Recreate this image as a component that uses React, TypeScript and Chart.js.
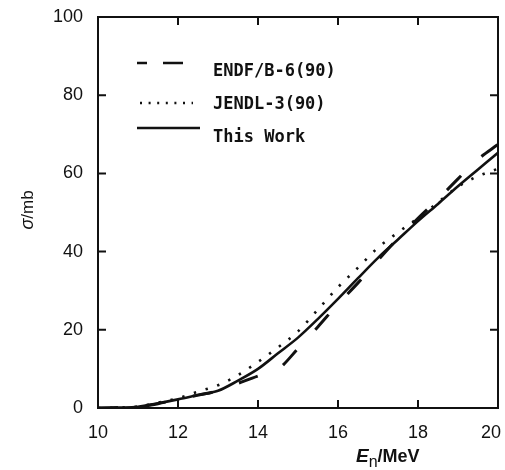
import React, { useEffect, useRef } from "react";
import { Chart, registerables } from "chart.js";

Chart.register(...registerables);

// Neutron energy grid (MeV)
const energies = [10, 10.5, 11, 11.5, 12, 12.5, 13, 13.5, 14, 14.5, 15, 15.5, 16, 16.5, 17, 17.5, 18, 18.5, 19, 19.5, 20];
// Cross sections (mb)
const endfb6 = [0, 0.1, 0.3, 1.1, 2.2, 3.3, 4.4, 6.3, 8.2, 9.9, 15.2, 20.8, 26.6, 32.0, 37.8, 43.4, 48.5, 53.4, 58.6, 63.6, 67.4];
const jendl3 = [0, 0.1, 0.4, 1.4, 2.5, 4.2, 5.8, 8.4, 11.8, 15.5, 19.6, 25.2, 30.9, 35.9, 41.0, 44.9, 48.6, 52.6, 56.6, 59.3, 61.2];
const thisWork = [0, 0.1, 0.3, 1.2, 2.2, 3.3, 4.4, 7.0, 10.0, 14.0, 18.0, 22.8, 27.9, 33.2, 38.4, 43.1, 47.8, 52.2, 56.7, 61.0, 65.3];

const seriesLabels = ["ENDF/B-6(90)", "JENDL-3(90)", "This Work"];
const xTickValues = [10, 12, 14, 16, 18, 20];
const yTickValues = [0, 20, 40, 60, 80, 100];

const INK = "#111";

const decorPlugin = {
  id: "decor",
  afterDraw(chart: any) {
    const { ctx, chartArea: a, scales } = chart;
    ctx.save();
    // frame
    ctx.strokeStyle = INK;
    ctx.lineWidth = 2;
    ctx.strokeRect(a.left, a.top, a.right - a.left, a.bottom - a.top);
    // inward ticks on all sides
    const L = 8;
    ctx.beginPath();
    scales.x.ticks.forEach((t: any) => {
      const px = scales.x.getPixelForValue(t.value);
      ctx.moveTo(px, a.bottom);
      ctx.lineTo(px, a.bottom - L);
      ctx.moveTo(px, a.top);
      ctx.lineTo(px, a.top + L);
    });
    scales.y.ticks.forEach((t: any) => {
      const py = scales.y.getPixelForValue(t.value);
      ctx.moveTo(a.left, py);
      ctx.lineTo(a.left + L, py);
      ctx.moveTo(a.right, py);
      ctx.lineTo(a.right - L, py);
    });
    ctx.stroke();

    // x tick labels (kept inside the canvas at the right end)
    ctx.fillStyle = INK;
    ctx.font = "18px 'Liberation Sans'";
    ctx.textBaseline = "middle";
    const W = chart.width;
    scales.x.ticks.forEach((t: any) => {
      const px = scales.x.getPixelForValue(t.value);
      const label = String(t.value);
      const w = ctx.measureText(label).width;
      let left = px - w / 2;
      if (left + w > W - 4) left = W - 4 - w;
      ctx.textAlign = "left";
      ctx.fillText(label, left, a.bottom + 25);
    });

    // legend
    const ds = chart.data.datasets;
    const rows = [
      { lineY: 63, textY: 72, x0: 137, x1: 183, dash: [10, 16, 20, 100], width: 2.5 },
      { lineY: 103, textY: 104.5, x0: 140, x1: 193, dash: [2, 6.6], width: 2.5 },
      { lineY: 128, textY: 137.5, x0: 137, x1: 200, dash: [], width: 2.5 },
    ];
    rows.forEach((r, i) => {
      ctx.beginPath();
      ctx.setLineDash(r.dash);
      ctx.lineWidth = r.width;
      ctx.lineCap = "butt";
      ctx.strokeStyle = INK;
      ctx.moveTo(r.x0, r.lineY);
      ctx.lineTo(r.x1, r.lineY);
      ctx.stroke();
      ctx.setLineDash([]);
      ctx.fillStyle = INK;
      ctx.font = "bold 17px 'DejaVu Sans Mono'";
      ctx.textAlign = "left";
      ctx.textBaseline = "middle";
      ctx.fillText(ds[i].label, 213, r.textY);
    });

    // y axis title: σ/mb
    ctx.save();
    ctx.translate(33, 210);
    ctx.rotate(-Math.PI / 2);
    ctx.textBaseline = "alphabetic";
    ctx.textAlign = "left";
    const f1 = "italic 18px 'Liberation Sans'";
    const f2 = "17px 'Liberation Sans'";
    ctx.font = f1;
    const w1 = ctx.measureText("σ").width;
    ctx.font = f2;
    const w2 = ctx.measureText("/mb").width;
    const start = -(w1 + w2) / 2;
    ctx.font = f1;
    ctx.fillText("σ", start, 0);
    ctx.font = f2;
    ctx.fillText("/mb", start + w1, 0);
    ctx.restore();

    // x axis title: E_n/MeV
    ctx.textAlign = "left";
    ctx.textBaseline = "alphabetic";
    let x = 356;
    const base = 462;
    ctx.font = "italic bold 19px 'Liberation Sans'";
    ctx.fillText("E", x, base);
    x += ctx.measureText("E").width;
    ctx.font = "16px 'Liberation Sans'";
    ctx.fillText("n", x, base + 5);
    x += ctx.measureText("n").width;
    ctx.font = "bold 18px 'Liberation Sans'";
    ctx.fillText("/MeV", x, base);

    ctx.restore();
  },
};

export default function App() {
  const ref = useRef<HTMLCanvasElement | null>(null);
  useEffect(() => {
    if (!ref.current) return;
    const mk = (ys: number[]) => energies.map((e, i) => ({ x: e, y: ys[i] }));
    const chart = new Chart(ref.current, {
      type: "line",
      data: {
        datasets: [
          {
            label: seriesLabels[0],
            data: mk(endfb6),
            borderColor: INK,
            borderWidth: 3,
            borderDash: [20, 28],
            pointRadius: 0,
            fill: false,
            cubicInterpolationMode: "monotone",
          },
          {
            label: seriesLabels[1],
            data: mk(jendl3),
            borderColor: INK,
            borderWidth: 2.6,
            borderDash: [2.4, 9.8],
            pointRadius: 0,
            fill: false,
            cubicInterpolationMode: "monotone",
          },
          {
            label: seriesLabels[2],
            data: mk(thisWork),
            borderColor: INK,
            borderWidth: 2.6,
            pointRadius: 0,
            fill: false,
            cubicInterpolationMode: "monotone",
          },
        ],
      },
      options: {
        animation: false,
        responsive: false,
        devicePixelRatio: 1,
        layout: { padding: { left: 0, right: 7, top: 17, bottom: 0 } },
        plugins: { legend: { display: false }, tooltip: { enabled: false } },
        scales: {
          x: {
            type: "linear",
            min: 10,
            max: 20,
            afterBuildTicks: (s: any) => {
              s.ticks = xTickValues.map((v) => ({ value: v }));
            },
            grid: { display: false, drawTicks: false },
            border: { display: false },
            ticks: { display: false },
            afterFit: (s: any) => {
              s.height = 62;
              s.paddingLeft = 0;
              s.paddingRight = 0;
            },
          },
          y: {
            type: "linear",
            min: 0,
            max: 100,
            afterBuildTicks: (s: any) => {
              s.ticks = yTickValues.map((v) => ({ value: v }));
            },
            grid: { display: false, drawTicks: false },
            border: { display: false },
            ticks: {
              padding: 15,
              color: INK,
              font: { family: "'Liberation Sans'", size: 18 },
              autoSkip: false,
            },
            afterFit: (s: any) => {
              s.width = 98;
              s.paddingTop = 0;
              s.paddingBottom = 0;
            },
          },
        },
      },
      plugins: [decorPlugin],
    } as any);
    return () => chart.destroy();
  }, []);
  return (
    <div style={{ position: "fixed", left: 0, top: 0, width: 505, height: 470, background: "#fff" }}>
      <canvas ref={ref} width={505} height={470} style={{ display: "block" }} />
    </div>
  );
}
